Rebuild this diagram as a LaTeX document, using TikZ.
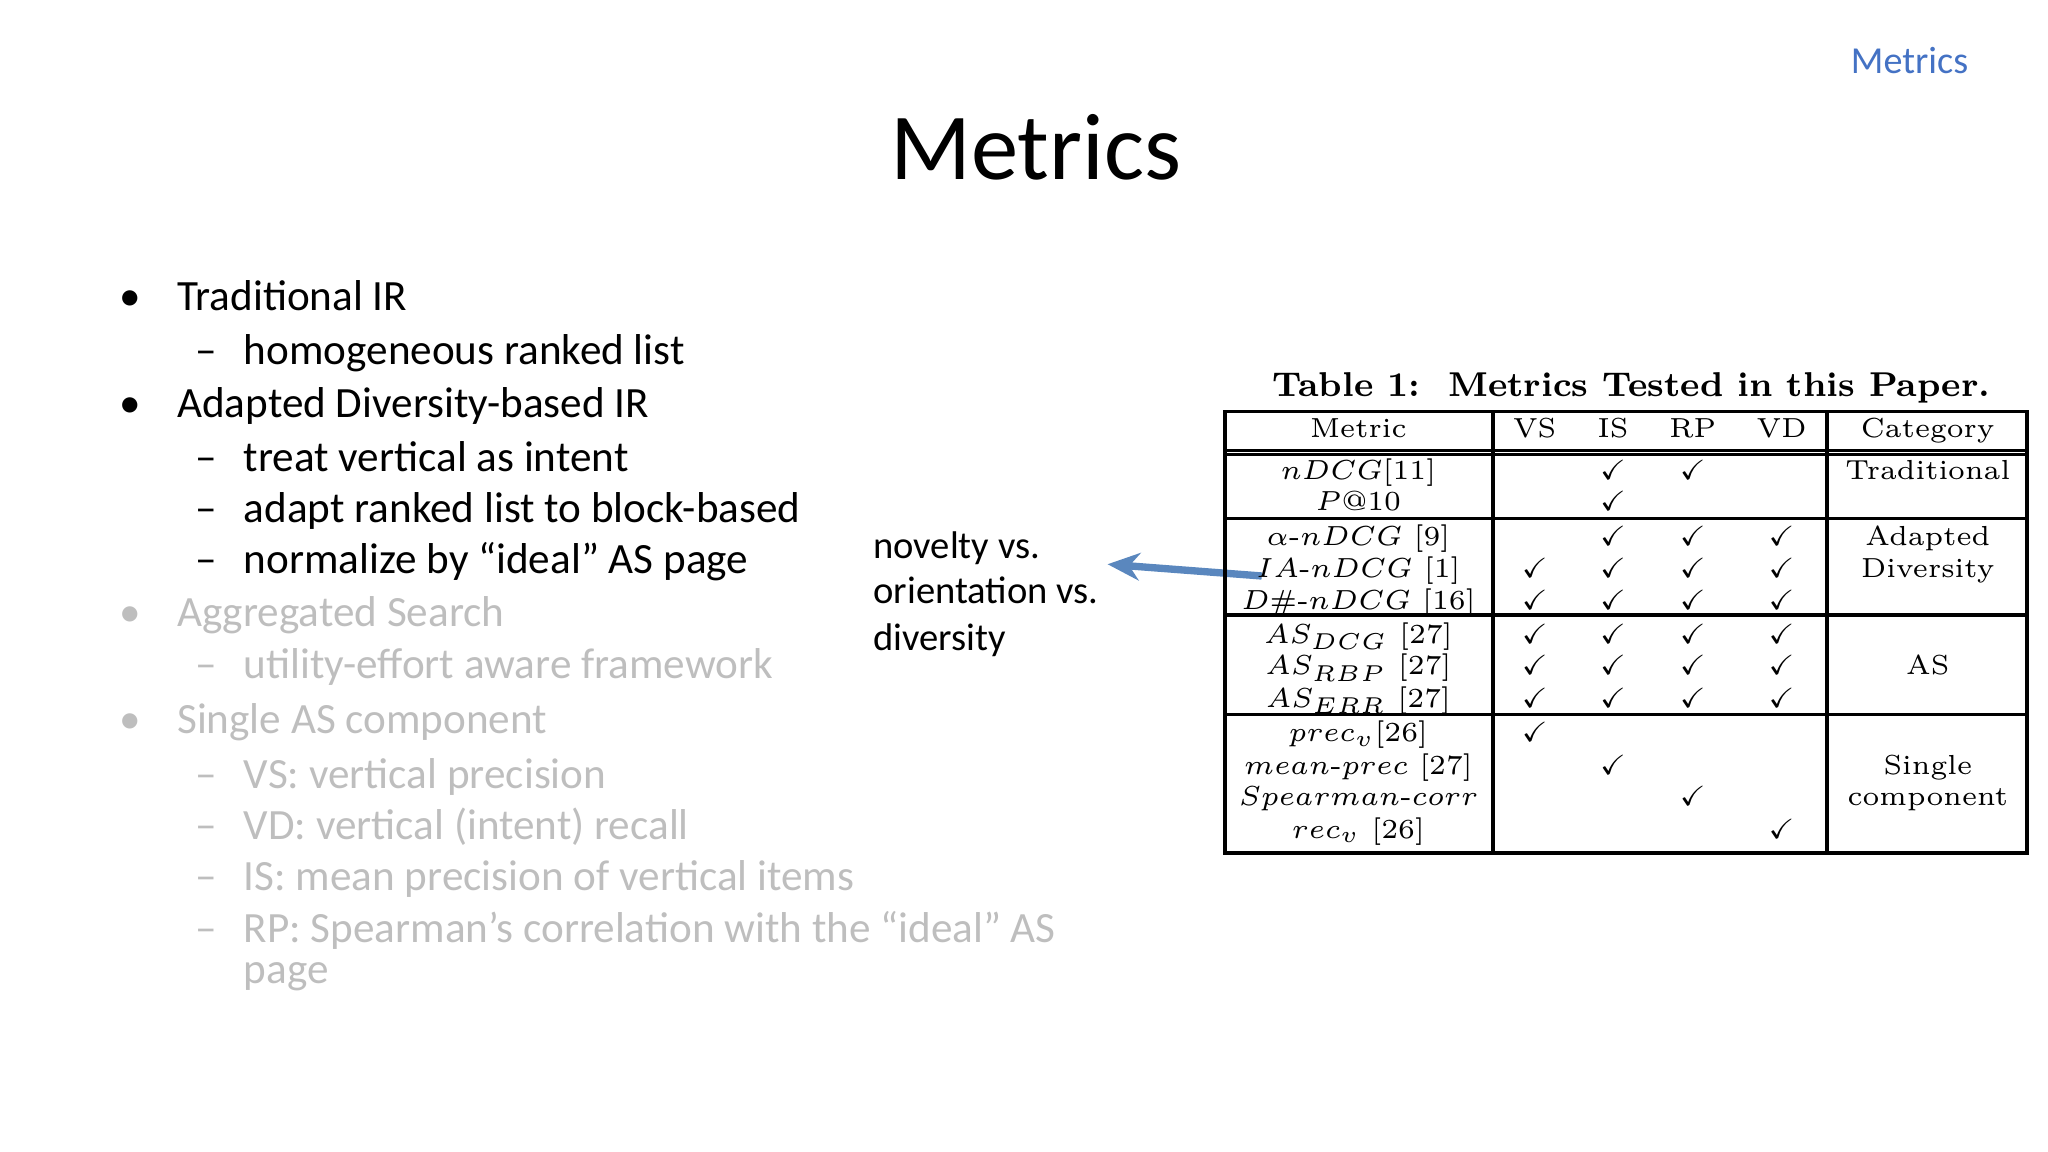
\documentclass[tikz,border=0pt]{standalone}
\usepackage{amssymb}
\usepackage{fontspec}
\newfontfamily\calfnt{Carlito}
\usetikzlibrary{arrows.meta}
\definecolor{blueA}{RGB}{68,114,196}
\definecolor{grayT}{RGB}{190,190,190}
\definecolor{arrowC}{RGB}{90,135,190}
\tikzset{
 bl/.style={anchor=west,font=\calfnt\fontsize{9.4}{11}\selectfont,text height=0.7em,text depth=0.2em,inner sep=0},
 cell/.style={font=\fontsize{6}{7}\selectfont,inner sep=0,text height=0.7em,text depth=0.2em},
 rule/.style={line width=0.8pt},
}
\begin{document}
\begin{tikzpicture}[x=0.01cm,y=-0.01cm]
\useasboundingbox (0,0) rectangle (1568,882);
\node[anchor=center,text=blueA,font=\calfnt\fontsize{8.3}{10}\selectfont] (hdr) at (1462,46) {Metrics};
\node[font=\calfnt\fontsize{20.6}{24}\selectfont] (title) at (793,113) {Metrics};
% left list
\foreach \y/\t/\n in {229/Traditional IR/a,311/Adapted Diversity-based IR/b}{
  \node[bl] (d\n) at (91,\y) {•};
  \node[bl] (t\n) at (135,\y) {\t};}
\foreach \y/\t/\n in {270/homogeneous ranked list/a,352/treat vertical as intent/b,391/adapt ranked list to block-based/c,430/normalize by “ideal” AS page/d}{
  \node[bl] (s\n) at (149,\y) {–};
  \node[bl] (u\n) at (186,\y) {\t};}
\begin{scope}[every node/.append style={text=grayT}]
\foreach \y/\t/\n in {471/Aggregated Search/c,553/Single AS component/d}{
  \node[bl] (d\n) at (91,\y) {•};
  \node[bl] (t\n) at (135,\y) {\t};}
\foreach \y/\t/\n in {511/utility-effort aware framework/e,595/VS: vertical precision/f,634/VD: vertical (intent) recall/g,673/IS: mean precision of vertical items/h,713/RP: Spearman’s correlation with the “ideal” AS/i}{
  \node[bl] (s\n) at (149,\y) {–};
  \node[bl] (u\n) at (186,\y) {\t};}
\node[bl] (uj) at (186,744) {page};
\end{scope}
% middle
\node[bl,font=\calfnt\fontsize{8.4}{10}\selectfont] (m1) at (668,419) {novelty vs.};
\node[bl,font=\calfnt\fontsize{8.4}{10}\selectfont] (m2) at (668,453) {orientation vs.};
\node[bl,font=\calfnt\fontsize{8.4}{10}\selectfont] (m3) at (668,489) {diversity};
\coordinate (as) at (966,441);
\coordinate (ae) at (848,432);
\draw[arrowC,line width=1.6pt,-{Stealth[length=7pt,width=6pt]}] (as) -- (ae);
% table
\node[font=\bfseries\fontsize{7.5}{9}\selectfont,inner sep=0] (tt) at (1249,297) {Table 1:\ \ Metrics Tested in this Paper.};
\draw[rule] (938,315) rectangle (1552,653);
\foreach \x in {1143,1399} \draw[rule] (\x,315) -- (\x,653);
\draw[rule] (938,345) -- (1552,345);
\draw[rule] (938,348) -- (1552,348);
\foreach \y in {397,471,547} \draw[rule] (938,\y) -- (1552,\y);
\foreach \x/\t in {1040/Metric,1175/VS,1235/IS,1296/RP,1364/VD,1476/Category}
  \node[cell] at (\x,326) {\t};
\foreach \y/\t in {358/{$nDCG$[11]},382/{$P@10$},409/{$\alpha$-$nDCG$ [9]},433/{$IA$-$nDCG$ [1]},458/{$D\#$-$nDCG$ [16]},484/{$AS_{DCG}$ [27]},508/{$AS_{RBP}$ [27]},533/{$AS_{ERR}$ [27]},559/{$prec_v$[26]},584/{$mean$-$prec$ [27]},608/{$Spearman$-$corr$},633/{$rec_v$ [26]}}
  \node[cell] at (1040,\y) {\t};
\foreach \x/\y in {1235/358,1296/358,1235/382,
  1235/409,1296/409,1364/409,
  1175/433,1235/433,1296/433,1364/433,
  1175/458,1235/458,1296/458,1364/458,
  1175/484,1235/484,1296/484,1364/484,
  1175/508,1235/508,1296/508,1364/508,
  1175/533,1235/533,1296/533,1364/533,
  1175/559,1235/584,1296/608,1364/633}
  \node[cell] at (\x,\y) {$\checkmark$};
\foreach \y/\t in {358/Traditional,409/Adapted,433/Diversity,508/AS,584/Single,608/component}
  \node[cell] at (1476,\y) {\t};
\end{tikzpicture}
\end{document}
